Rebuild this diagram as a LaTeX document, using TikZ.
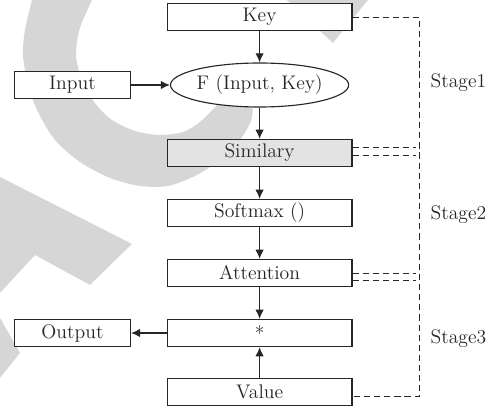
\documentclass[tikz,border=0pt]{standalone}
\usetikzlibrary{arrows.meta,shapes.geometric,calc}
\definecolor{wmgray}{gray}{0.84}
\definecolor{simgray}{gray}{0.89}
\definecolor{ink}{gray}{0.15}
\begin{document}
\begin{tikzpicture}[node distance=1.5cm,
                every node/.style={font=\fontsize{14}{16}\selectfont, text=ink},
                blk/.style={draw=ink, fill=white, line width=0.8pt, minimum width=4.62cm, minimum height=0.68cm, inner sep=0pt},
                side/.style={blk, minimum width=2.9cm, minimum height=0.675cm},
                oval/.style={ellipse, draw=ink, fill=white, line width=0.8pt, minimum width=4.15cm, minimum height=1.1cm, inner sep=0pt},
                arr/.style={draw=ink, line width=0.8pt, -{Latex[length=6.5pt,width=6pt]}},
                stg/.style={draw=ink, line width=0.7pt, dash pattern=on 4.4pt off 2.8pt},
                lbl/.style={anchor=west, xshift=0.27cm, inner sep=0pt}]
                \useasboundingbox (0,0) rectangle (12.4,-10.25);

                \begin{scope}[x=0.025cm, y=-0.025cm]
                    \fill[wmgray] plot[smooth] coordinates {(32,0) (25,30) (23,55) (28,85) (38,112) (55,140) (80,162) (110,178) (140,186) (168,186) (195,176) (220,160) (240,140) (252,118) (252,95)}
                        -- plot[smooth] coordinates {(225,95) (218,104) (200,122) (183,132) (160,135) (135,131) (112,120) (95,103) (82,80) (76,55) (80,28) (92,0)} -- cycle;
                    \fill[wmgray] (287,0) -- (368,0) -- (333,43) -- cycle;
                    \fill[wmgray] (0,177) -- (132,244) -- (90,285) -- (35,255) -- (0,293) -- cycle;
                    \fill[wmgray] (0,318) -- (20,353) -- (0,378) -- cycle;
                \end{scope}

                \node[blk] (key) at (6.49,-0.425) {Key};
                \node[oval] (f) at ([shift=(-90:1.7)] key) {F (Input, Key)};
                \node[side] (in) at ([shift=(180:4.6775)] f) {Input};
                \node[blk, fill=simgray] (sim) at ([shift=(-90:1.7)] f) {Similary};
                \node[blk] (soft) [below of=sim] {Softmax ()};
                \node[blk] (att) [below of=soft] {Attention};
                \node[blk] (mul) [below of=att] {*};
                \node[blk] (val) [node distance=1.48cm, below of=mul] {Value};
                \node[side] (out) [node distance=4.6775cm, left of=mul] {Output};

                \draw[arr] (key) -- (f);
                \draw[arr] (in) -- (f);
                \draw[arr] (f) -- (sim);
                \draw[arr] (sim) -- (soft);
                \draw[arr] (soft) -- (att);
                \draw[arr] (att) -- (mul);
                \draw[arr] (val) -- (mul);
                \draw[arr] (mul) -- (out);

                \coordinate (t) at ([xshift=1.675cm] key.east);
                \coordinate (b) at ([xshift=1.675cm, yshift=-0.11cm] val.east);
                \coordinate (s1) at ([xshift=1.575cm, yshift=0.145cm] sim.east);
                \coordinate (s2) at ([xshift=1.575cm, yshift=-0.055cm] sim.east);
                \coordinate (a1) at ([xshift=1.575cm] att.east);
                \coordinate (a2) at ([xshift=1.575cm, yshift=-0.19cm] att.east);

                \draw[stg] (key.east) -- (t) -- (b) -- ([yshift=-0.11cm] val.east);
                \draw[stg] ([yshift=0.145cm] sim.east) -- (s1);
                \draw[stg] ([yshift=-0.055cm] sim.east) -- (s2);
                \draw[stg] (att.east) -- (a1);
                \draw[stg] ([yshift=-0.19cm] att.east) -- (a2);

                \node[lbl] (st1) at ($(t)!0.5!(s1 -| t)$) {Stage1};
                \node[lbl] (st2) at ($(s2 -| t)!0.5!(a1 -| t)$) {Stage2};
                \node[lbl] (st3) at ($(a2 -| t)!0.5!(b)$) {Stage3};
            \end{tikzpicture}
\end{document}
